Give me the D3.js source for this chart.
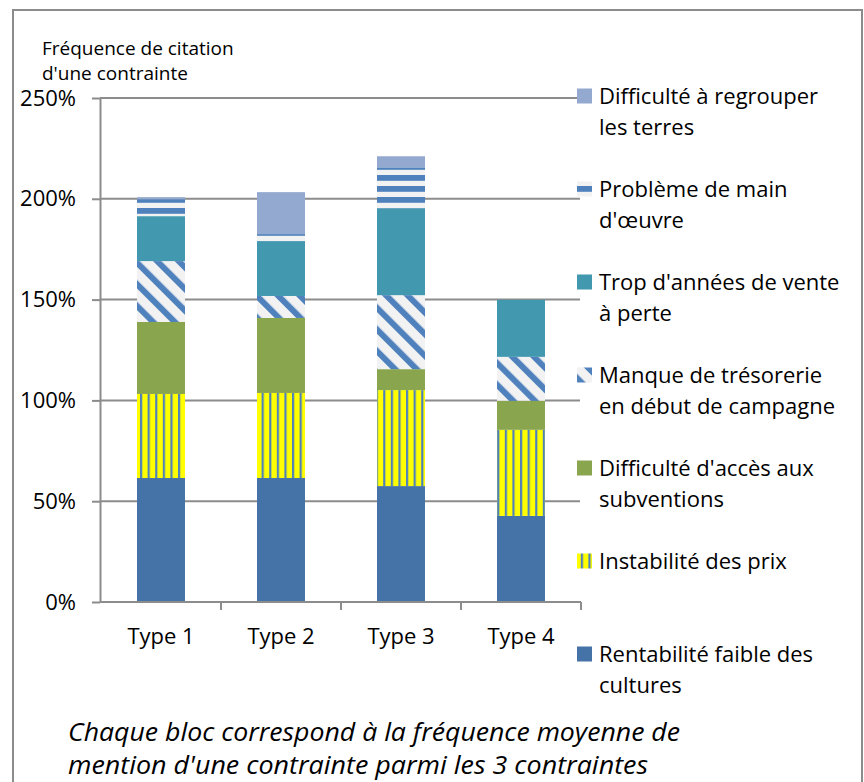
<!DOCTYPE html>
<html>
<head>
<meta charset="utf-8">
<script src="https://cdn.jsdelivr.net/npm/d3@7"></script>
<style>
  body { margin: 0; background: #fff; }
  text { font-family: "Open Sans", sans-serif; fill: #000; }
</style>
</head>
<body>
<div id="chartArea"></div>
<script>
// data (fractions, 1 = 100%)
const categories = ["Type 1", "Type 2", "Type 3", "Type 4"];
const rentabilite = [0.615, 0.615, 0.575, 0.427];
const instabilite = [0.417, 0.422, 0.476, 0.427];
const subventions = [0.357, 0.372, 0.104, 0.144];
const tresorerie  = [0.302, 0.109, 0.367, 0.218];
const venteAPerte = [0.223, 0.272, 0.431, 0.283];
const mainOeuvre  = [0.084, 0.035, 0.203, 0];
const regrouper   = [0.010, 0.208, 0.055, 0];

const seriesKeys = ["rentabilite", "instabilite", "subventions", "tresorerie", "venteAPerte", "mainOeuvre", "regrouper"];
const seriesValues = [rentabilite, instabilite, subventions, tresorerie, venteAPerte, mainOeuvre, regrouper];
const legendLabels = [
  ["Rentabilité faible des", "cultures"],
  ["Instabilité des prix"],
  ["Difficulté d'accès aux", "subventions"],
  ["Manque de trésorerie", "en début de campagne"],
  ["Trop d'années de vente", "à perte"],
  ["Problème de main", "d'œuvre"],
  ["Difficulté à regrouper", "les terres"]
];
const yTicks = [0, 0.5, 1, 1.5, 2, 2.5];

const blue = "#4572A7", stripeBlue = "#4F81BD", paper = "#F2F2F2";
const fills = [blue, "url(#vstripes)", "#89A54E", "url(#diag)", "#4198AF", "url(#hstripes)", "#93A9CF"];
const axisGrey = "#8c8c8c";

const W = 864, H = 782;
const svg = d3.select("#chartArea").append("svg")
  .attr("width", W)
  .attr("height", H);

// patterns
const defs = svg.append("defs");
const vp = defs.append("pattern").attr("id", "vstripes")
  .attr("patternUnits", "userSpaceOnUse").attr("x", 3.2).attr("y", 0)
  .attr("width", 7.6).attr("height", 10);
vp.append("rect").attr("width", 7.6).attr("height", 10).attr("fill", "#FFFF00");
vp.append("rect").attr("width", 2.2).attr("height", 10).attr("fill", stripeBlue);

const hp = defs.append("pattern").attr("id", "hstripes")
  .attr("patternUnits", "userSpaceOnUse").attr("x", 0).attr("y", 10)
  .attr("width", 10).attr("height", 11);
hp.append("rect").attr("width", 10).attr("height", 11).attr("fill", paper);
hp.append("rect").attr("width", 10).attr("height", 5.8).attr("fill", stripeBlue);

const dp = defs.append("pattern").attr("id", "diag")
  .attr("patternUnits", "userSpaceOnUse")
  .attr("width", 15.3).attr("height", 15.3)
  .attr("patternTransform", "rotate(-45)");
dp.append("rect").attr("width", 15.3).attr("height", 15.3).attr("fill", paper);
dp.append("rect").attr("width", 6).attr("height", 15.3).attr("fill", stripeBlue);

// outer frame
svg.append("rect")
  .attr("x", 13).attr("y", 10).attr("width", 849).attr("height", 800)
  .attr("fill", "none").attr("stroke", axisGrey).attr("stroke-width", 2);

// scales
const x = d3.scaleBand().domain(categories).range([101, 581])
  .paddingInner(0.6).paddingOuter(0.3);
const y = d3.scaleLinear().domain([0, 2.5]).range([602, 98]);

// gridlines
svg.append("g").selectAll("line")
  .data(yTicks.filter(d => d > 0))
  .join("line")
  .attr("x1", 100).attr("x2", 580)
  .attr("y1", d => y(d)).attr("y2", d => y(d))
  .attr("stroke", axisGrey).attr("stroke-width", 2);

// stacked bars
const rows = categories.map((c, i) => {
  const r = { cat: c };
  seriesKeys.forEach((k, j) => r[k] = seriesValues[j][i]);
  return r;
});
const stacked = d3.stack().keys(seriesKeys)(rows);

svg.append("g").selectAll("g")
  .data(stacked)
  .join("g")
  .attr("fill", (d, i) => fills[i])
  .selectAll("rect")
  .data(d => d.filter(p => p[1] - p[0] > 0))
  .join("rect")
  .attr("x", d => x(d.data.cat))
  .attr("width", x.bandwidth())
  .attr("y", d => y(d[1]))
  .attr("height", d => y(d[0]) - y(d[1]));

// y axis
const yAxis = svg.append("g")
  .attr("transform", "translate(100,0)")
  .call(d3.axisLeft(y).tickValues(yTicks).tickFormat(d3.format(".0%"))
    .tickSize(8).tickPadding(16).tickSizeOuter(0));
yAxis.selectAll("path, line").attr("stroke", axisGrey).attr("stroke-width", 2);
yAxis.selectAll("text").attr("font-size", 22).attr("font-family", "Open Sans").attr("fill", "#000");

// x axis: labels under the bars, ticks on category boundaries
const xAxis = svg.append("g")
  .attr("transform", "translate(0,602)")
  .call(d3.axisBottom(x).tickSize(0).tickPadding(26).tickSizeOuter(0));
xAxis.select("path").attr("d", "M100,0H581").attr("stroke", axisGrey).attr("stroke-width", 2);
xAxis.selectAll("text").attr("font-size", 22).attr("font-family", "Open Sans").attr("fill", "#000");

const bounds = categories.map(c => x(c) - x.step() * x.paddingOuter()).concat([581]);
svg.append("g").selectAll("line")
  .data(bounds.slice(1))
  .join("line")
  .attr("x1", d => d).attr("x2", d => d)
  .attr("y1", 602).attr("y2", 610)
  .attr("stroke", axisGrey).attr("stroke-width", 2);

// y axis title
const title = svg.append("text").attr("font-size", 19);
title.append("tspan").attr("x", 42).attr("y", 55).text("Fréquence de citation");
title.append("tspan").attr("x", 42).attr("y", 80).text("d'une contrainte");

// legend (top entry = last series)
const legendTop = 96, legendStep = 93;
const legend = svg.append("g").selectAll("g")
  .data(seriesKeys.map((k, i) => ({ fill: fills[i], lines: legendLabels[i], idx: i })).reverse())
  .join("g");
legend.append("rect")
  .attr("x", 577).attr("width", 15).attr("height", 15)
  .attr("y", (d, i) => legendTop + i * legendStep - 7.5)
  .attr("fill", d => d.fill);
legend.append("text")
  .attr("font-size", 22)
  .each(function (d, i) {
    d3.select(this).selectAll("tspan")
      .data(d.lines)
      .join("tspan")
      .attr("x", 599)
      .attr("y", (t, j) => legendTop + i * legendStep + 8 + j * 31)
      .text(t => t);
  });

// footnote
const note = svg.append("text").attr("font-size", 25).attr("font-style", "italic");
note.append("tspan").attr("x", 68).attr("y", 741)
  .attr("textLength", 612).attr("lengthAdjust", "spacingAndGlyphs")
  .text("Chaque bloc correspond à la fréquence moyenne de");
note.append("tspan").attr("x", 68).attr("y", 774)
  .attr("textLength", 580).attr("lengthAdjust", "spacingAndGlyphs")
  .text("mention d'une contrainte parmi les 3 contraintes");
</script>
</body>
</html>
